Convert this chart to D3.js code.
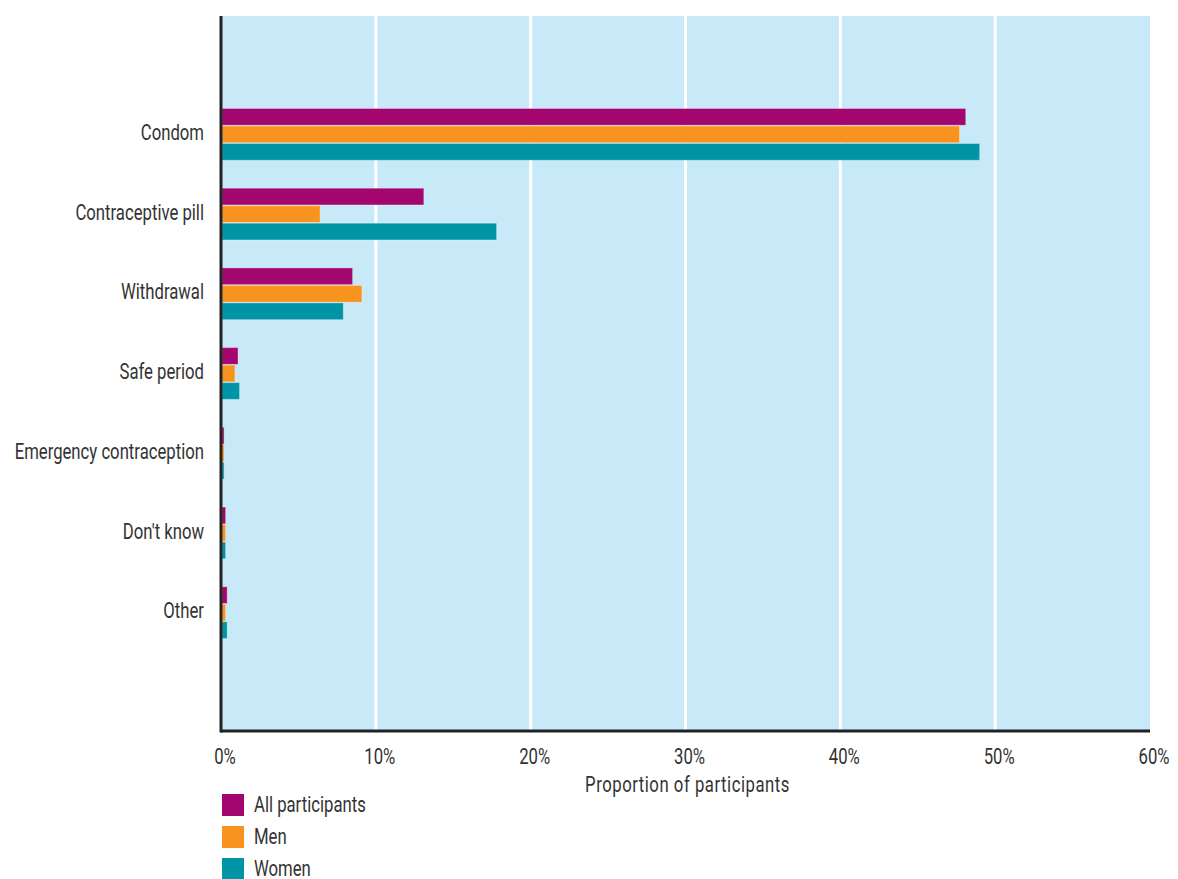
<!DOCTYPE html>
<html>
<head>
<meta charset="utf-8">
<script src="https://cdn.jsdelivr.net/npm/d3@7"></script>
<style>
  html, body { margin: 0; padding: 0; background: #ffffff; }
  svg text { font-family: "Roboto", "Liberation Sans", "DejaVu Sans", sans-serif; fill: #333333; }
</style>
</head>
<body>
<svg id="chart" width="1178" height="879"></svg>
<script>
// Contraceptive method used, share of participants (%)
const methods = ["Condom", "Contraceptive pill", "Withdrawal", "Safe period", "Emergency contraception", "Don't know", "Other"];
const allParticipants = [48.1, 13.1, 8.5, 1.1, 0.2, 0.3, 0.4];
const men             = [47.7, 6.4, 9.1, 0.9, 0.2, 0.3, 0.3];
const women           = [49.0, 17.8, 7.9, 1.2, 0.2, 0.3, 0.4];
const seriesNames = ["All participants", "Men", "Women"];
const seriesColors = ["#A4066F", "#F7931E", "#0094A7"];
const xTicks = [0, 10, 20, 30, 40, 50, 60];
const xTitle = "Proportion of participants";

const seriesValues = [allParticipants, men, women];

const svg = d3.select("#chart");
const plotLeft = 221, plotRight = 1150, plotTop = 16, plotBottom = 731;
const narrow = 0.76; // horizontal squeeze for a condensed look

const x = d3.scaleLinear().domain([0, 60]).range([plotLeft, plotRight]);
const y = d3.scaleBand().domain(methods).range([plotTop, plotBottom])
  .paddingInner(0.35).paddingOuter(1.16);
const ySub = d3.scaleBand().domain(seriesNames).range([0, y.bandwidth()]).paddingInner(0.04);

// places a condensed text at (px, py)
function place(sel, px, py) {
  sel.attr("transform", (d, i) => `translate(${px(d, i)},${py(d, i)}) scale(${narrow},1)`);
}

// plot background
svg.append("rect")
  .attr("x", plotLeft).attr("y", plotTop)
  .attr("width", plotRight - plotLeft).attr("height", plotBottom - plotTop)
  .attr("fill", "#C7E9F8");

// vertical gridlines
svg.append("g").selectAll("line")
  .data(xTicks.filter(t => t > 0 && t < 60))
  .join("line")
  .attr("x1", d => x(d)).attr("x2", d => x(d))
  .attr("y1", plotTop).attr("y2", plotBottom)
  .attr("stroke", "#ffffff").attr("stroke-width", 3);

// bars
const groups = svg.append("g").selectAll("g")
  .data(methods)
  .join("g")
  .attr("transform", d => `translate(0,${y(d)})`);

groups.selectAll("rect")
  .data((m, i) => seriesNames.map((s, k) => ({ s, k, v: seriesValues[k][i] })))
  .join("rect")
  .attr("x", x(0) + 1)
  .attr("y", d => ySub(d.s))
  .attr("width", d => x(d.v) - x(0) - 1)
  .attr("height", ySub.bandwidth())
  .attr("fill", d => seriesColors[d.k])
  .attr("stroke", "rgba(255,255,255,0.35)")
  .attr("stroke-width", 1);

// category labels
svg.append("g").selectAll("text")
  .data(methods)
  .join("text")
  .call(place, () => plotLeft - 17, d => y(d) + y.bandwidth() / 2 - 2)
  .attr("dy", "0.35em")
  .attr("text-anchor", "end")
  .attr("font-size", 22)
  .text(d => d);

// axis lines
svg.append("line")
  .attr("x1", plotLeft).attr("x2", plotLeft).attr("y1", plotTop).attr("y2", plotBottom + 1.5)
  .attr("stroke", "#222222").attr("stroke-width", 3);
svg.append("line")
  .attr("x1", plotLeft).attr("x2", plotRight).attr("y1", plotBottom).attr("y2", plotBottom)
  .attr("stroke", "#222222").attr("stroke-width", 3);

// tick labels
svg.append("g").selectAll("text")
  .data(xTicks)
  .join("text")
  .call(place, d => x(d) + 4, () => 764)
  .attr("text-anchor", "middle")
  .attr("font-size", 22)
  .text(d => d + "%");

svg.append("text")
  .datum(xTitle)
  .call(place, () => (plotLeft + plotRight) / 2 + 2, () => 792)
  .attr("text-anchor", "middle")
  .attr("font-size", 22)
  .attr("letter-spacing", 0.7)
  .text(d => d);

// legend
const legend = svg.append("g").selectAll("g")
  .data(seriesNames)
  .join("g")
  .attr("transform", (d, i) => `translate(222,${794 + i * 32})`);
legend.append("rect")
  .attr("width", 22).attr("height", 22)
  .attr("fill", (d, i) => seriesColors[i]);
legend.append("text")
  .call(place, () => 32, () => 10)
  .attr("dy", "0.36em")
  .attr("font-size", 22)
  .text(d => d);
</script>
</body>
</html>
